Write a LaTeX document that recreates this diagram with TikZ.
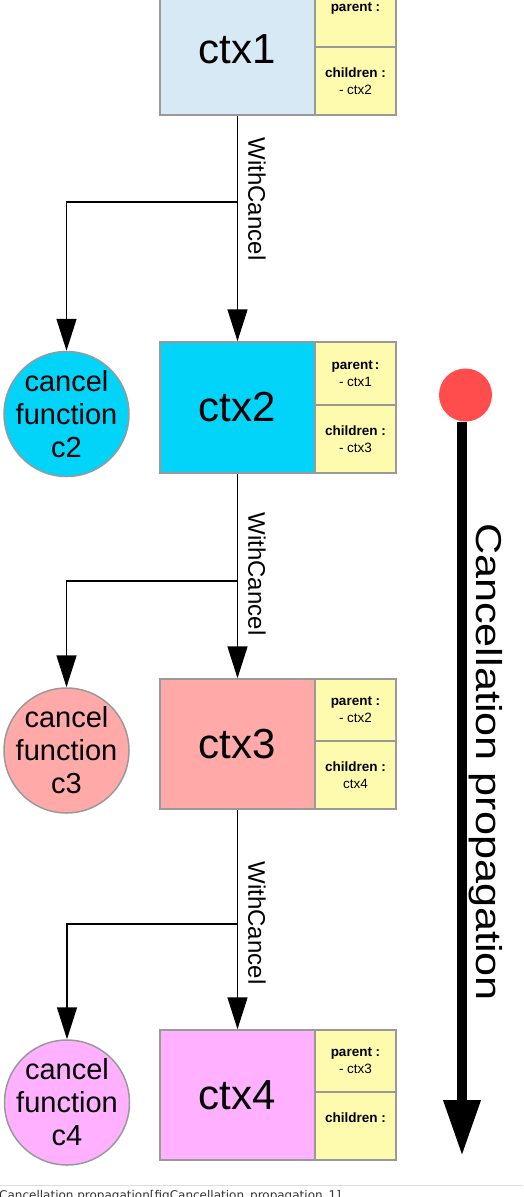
\documentclass[tikz,border=0pt]{standalone}
\usepackage{fontspec}
\setmainfont{Liberation Sans}
\newfontfamily\capfont{DejaVu Sans}
\usetikzlibrary{arrows.meta}
\definecolor{bordergray}{HTML}{999999}
\definecolor{cfa}{HTML}{D7E9F5}
\definecolor{cfb}{HTML}{02D3F8}
\definecolor{cfc}{HTML}{FFA9A9}
\definecolor{cfd}{HTML}{FFB1FF}
\definecolor{yel}{HTML}{FFFBAE}
\definecolor{redc}{HTML}{FF4D4D}
\definecolor{capgray}{HTML}{DDDDDD}
\definecolor{captext}{HTML}{333333}
\begin{document}
\begin{tikzpicture}[x=1pt,y=-1pt,
  mainbox/.style={draw=bordergray, line width=1.5pt, minimum width=155pt, minimum height=131pt, inner sep=0pt, font=\fontsize{42}{42}\selectfont},
  ybox/.style={draw=bordergray, fill=yel, line width=1.5pt, minimum width=81pt, inner sep=0pt, align=center, font=\fontsize{13.5}{17}\selectfont},
  cfun/.style={circle, draw=bordergray, line width=1.5pt, minimum size=125pt, inner sep=0pt},
  cftext/.style={align=center, font=\fontsize{29}{33}\selectfont},
  arr/.style={draw, line width=1.5pt, -{Triangle[length=32pt,width=20pt]}},
  wc/.style={rotate=-90, inner sep=0pt, font=\fontsize{24}{24}\selectfont}
]
\useasboundingbox (0,0) rectangle (523,1197);

% ctx1
\node[mainbox, fill=cfa] (ctx1) at (237.5,49.5) {ctx1};
\node[ybox, minimum height=63pt] (p1) at (355.5,15.5) {\textbf{parent :}\\ \mbox{}};
\node[ybox, minimum height=68pt] (ch1) at (355.5,81) {\textbf{children :}\\ - ctx2};

% ctx2
\node[mainbox, fill=cfb] (ctx2) at (237.5,407.5) {ctx2};
\node[ybox, minimum height=63pt] (p2) at (355.5,373.5) {\textbf{parent\,:}\\ - ctx1};
\node[ybox, minimum height=68pt] (ch2) at (355.5,439) {\textbf{children :}\\ - ctx3};

% ctx3
\node[mainbox, fill=cfc, minimum height=130pt] (ctx3) at (237.5,744) {ctx3};
\node[ybox, minimum height=62pt] (p3) at (355.5,710) {\textbf{parent :}\\ - ctx2};
\node[ybox, minimum height=68pt] (ch3) at (355.5,775) {\textbf{children :}\\ ctx4};

% ctx4
\node[mainbox, fill=cfd, minimum height=130pt] (ctx4) at (237.5,1095) {ctx4};
\node[ybox, minimum height=62pt] (p4) at (355.5,1061) {\textbf{parent :}\\ - ctx3};
\node[ybox, minimum height=68pt] (ch4) at (355.5,1126) {\textbf{children :}\\ \mbox{}};

% cancel functions
\node[cfun, fill=cfb, label={[cftext]center:cancel\\function\\c2}] (c2) at (66.5,414) {};
\node[cfun, fill=cfc, label={[cftext]center:cancel\\function\\c3}] (c3) at (66.5,750.5) {};
\node[cfun, fill=cfd, label={[cftext]center:cancel\\function\\c4}] (c4) at (67,1102.5) {};

% connectors
\coordinate (b1) at (237.5,202);
\coordinate (b2) at (237.5,581);
\coordinate (b3) at (237.5,924);
\draw[arr] (ctx1.south) -- (ctx2.north);
\draw[arr] (b1) -| (c2.north);
\draw[arr] (ctx2.south) -- (ctx3.north);
\draw[arr] (b2) -| (c3.north);
\draw[arr] (ctx3.south) -- (ctx4.north);
\draw[arr] (b3) -| (c4.north);

\node[wc] (w1) at (257,199) {WithCancel};
\node[wc] (w2) at (257,574) {WithCancel};
\node[wc] (w3) at (257,923) {WithCancel};

% cancellation propagation
\node[circle, fill=redc, minimum size=53pt, inner sep=0pt] (rc) at (465.5,395) {};
\coordinate (tip) at (462,1156);
\draw[line width=10pt, -{Triangle[length=56pt,width=35pt]}] (rc.south -| tip) -- (tip);
\node[rotate=-90, inner sep=0pt, font=\fontsize{36}{36}\selectfont] (cp) at (486,762) {\scalebox{1.2}[1]{Cancellation propagation}};

% caption
\coordinate (cl1) at (0,1185);
\coordinate (cl2) at (523,1185);
\draw[capgray, line width=1pt] (cl1) -- (cl2);
\node[anchor=base west, inner sep=0pt, text=captext, font=\capfont\fontsize{12}{12}\selectfont] (cap) at (-1,1199) {Cancellation propagation[figCancellation\_propagation\_1]};
\end{tikzpicture}
\end{document}
